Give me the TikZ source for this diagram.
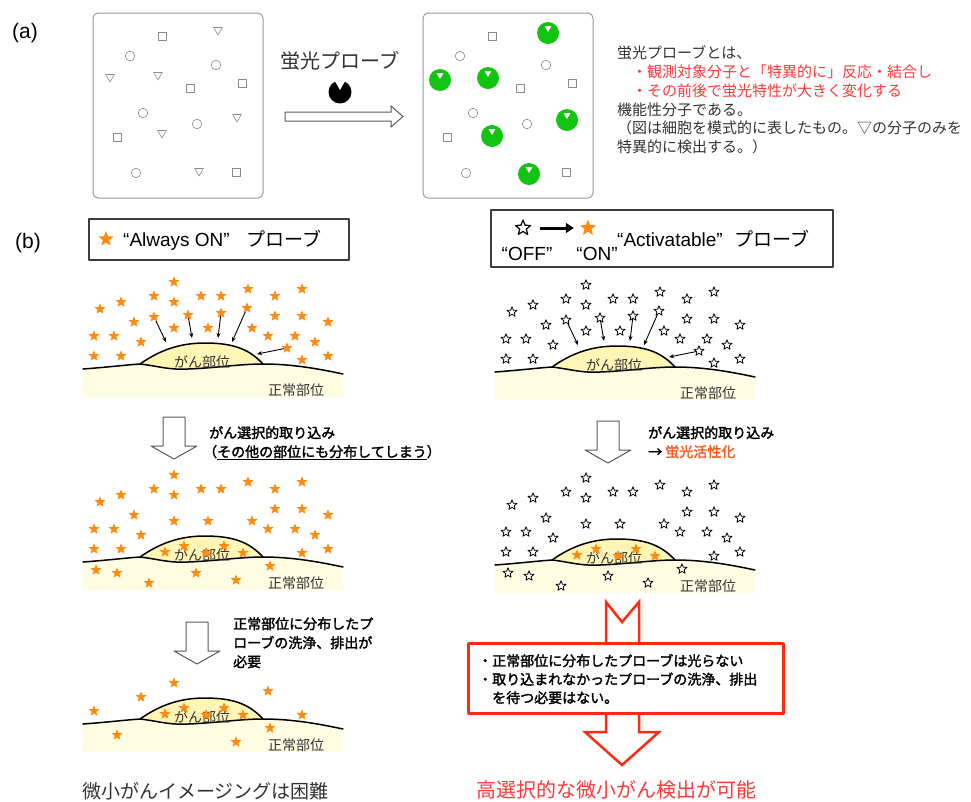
\documentclass[tikz,border=0pt]{standalone}
\usepackage{fontspec}
\setmainfont{Noto Sans CJK JP}[AutoFakeBold=2]
\newfontfamily\lat{Liberation Sans}
\usetikzlibrary{shapes.geometric,arrows.meta}

\definecolor{molgray}{HTML}{8A8A8A}
\definecolor{framegray}{HTML}{9A9A9A}
\definecolor{arrowgray}{HTML}{5A5A5A}
\definecolor{keyframe}{HTML}{3C3C3C}
\definecolor{textgray}{HTML}{333333}
\definecolor{probegreen}{HTML}{12C312}
\definecolor{onorange}{HTML}{FF8C10}
\definecolor{tumorfill}{HTML}{FFF5B4}
\definecolor{normalfill}{HTML}{FFFCE2}
\definecolor{notered}{HTML}{FF3838}
\definecolor{alertred}{HTML}{FF2A10}
\definecolor{glowred}{HTML}{FF5A1E}

\newcommand\fsz[1]{\fontsize{#1}{#1}\selectfont}

\tikzset{
  mol/.style={draw=molgray, line width=0.6pt, fill=white, inner sep=0pt},
  molcirc/.style={mol, circle, minimum size=9.5pt},
  molsq/.style={mol, rectangle, minimum size=8pt},
  moltri/.style={mol, regular polygon, regular polygon sides=3, shape border rotate=180, minimum size=10pt},
  hitmol/.style={circle, fill=probegreen, inner sep=0pt, minimum size=22pt},
  hittri/.style={regular polygon, regular polygon sides=3, shape border rotate=180, fill=white, inner sep=0pt, minimum size=8pt},
  onstar/.style={star, star points=5, star point ratio=2.3, fill=onorange, inner sep=0pt, minimum size=11.5pt},
  offstar/.style={star, star points=5, star point ratio=2.3, draw=black, fill=white, line width=0.8pt, inner sep=0pt, minimum size=10.5pt},
  hollow/.style={draw=arrowgray, line width=1pt, fill=white},
  tissueline/.style={line width=1.5pt, line join=round, line cap=round},
  uptakearrow/.style={-{Stealth[length=5pt,width=4pt]}, line width=0.9pt},
  keybox/.style={draw=keyframe, line width=1.5pt, inner sep=0pt, anchor=north west},
  sitelabel/.style={font=\fsz{14}, text=textgray, anchor=base, inner sep=0pt},
  remark/.style={font=\fsz{14}\bfseries, anchor=base west, inner sep=0pt},
  note/.style={font=\fsz{15}, text=textgray, anchor=base west, inner sep=0pt},
  hollowdown/.pic={
    \draw[hollow] (-11,0) -- (11,0) -- (11,29) -- (23,29) -- (0,42) -- (-23,29) -- (-11,29) -- cycle;
  },
  tissue/.pic={
    % normal tissue below the surface line
    \fill[normalfill] (83,369) .. controls (110,367) and (125,365) .. (140,364)
      .. controls (158,366) and (168,370) .. (188,369)
      .. controls (215,368) and (240,364) .. (263,364)
      .. controls (290,364) and (315,368) .. (343,374) -- (343,397) -- (83,397) -- cycle;
    % tumour bump
    \fill[tumorfill] (140,364) .. controls (160,350) and (180,343) .. (205,343)
      .. controls (235,343) and (250,350) .. (263,364)
      .. controls (240,364) and (215,368) .. (188,369)
      .. controls (168,370) and (158,366) .. (140,364) -- cycle;
    \draw[tissueline] (83,369) .. controls (110,367) and (125,365) .. (140,364)
      .. controls (158,366) and (168,370) .. (188,369)
      .. controls (215,368) and (240,364) .. (263,364)
      .. controls (290,364) and (315,368) .. (343,374);
    \draw[tissueline] (140,364) .. controls (160,350) and (180,343) .. (205,343)
      .. controls (235,343) and (250,350) .. (263,364);
    \node[sitelabel] (-tumor) at (202,367) {がん部位};
    \node[sitelabel] (-normal) at (296,395) {正常部位};
  }
}

% molecules in the cell
\def\circs{130/56, 216/65, 143/113, 197/124, 136/173}
\def\squares{162/36, 190/88, 242/83, 117/137, 236/172}
\def\targets{218/30, 110/77, 158/75, 237/117, 162/133, 199/171}
% probe positions around the tumour
\def\upperstars{174/282, 100/309, 121/302, 154/296, 174/302, 201/296, 221/296, 248/289, 275/296, 302/289, 134/322, 275/316, 302/316, 328/322, 94/336, 114/336, 141/342, 174/328, 208/328, 252/328, 268/336, 295/336, 315/342, 94/356, 121/356, 302/360, 328/356}
\def\uptake{154/317/166/342, 188/315/192/338, 221/313/218/338, 247/308/232/342, 287/348/257/354}
\def\tumorstars{165/359, 184/353, 206/360, 224/353, 243/360}
\def\lowerstars{96/377, 117/380, 149/390, 196/380, 236/387, 270/373}
\def\leftstars{174/328, 141/342, 94/356, 268/336, 302/360}
\def\leftlower{117/380, 236/387, 270/373}

\begin{document}
\begin{tikzpicture}[x=1pt, y=-1pt, line join=round]
\useasboundingbox (0,0) rectangle (971,801);
\fill[white] (0,0) rectangle (971,801);

%% (a)
\node[font=\lat\fsz{21}, anchor=base, inner sep=0pt] (lbla) at (25,38) {(a)};
\draw[framegray, line width=1pt, rounded corners=5pt] (93,13) rectangle (263,198);
\draw[framegray, line width=1pt, rounded corners=5pt] (423,13) rectangle (593,198);
\foreach \x/\y [count=\i] in \circs {
  \node[molcirc] (lc\i) at (\x,\y) {};
  \node[molcirc] (rc\i) at (\x+330,\y) {};
}
\foreach \x/\y [count=\i] in \squares {
  \node[molsq] (ls\i) at (\x,\y) {};
  \node[molsq] (rs\i) at (\x+330,\y) {};
}
\foreach \x/\y [count=\i] in \targets {
  \node[moltri] (lt\i) at (\x,\y) {};
  \node[hitmol] (hit\i) at (\x+330,\y+3) {};
  \node[hittri] (rt\i) at ([yshift=5pt]hit\i.center) {};
}
\node[font=\fsz{20}, text=textgray, anchor=base, inner sep=0pt] (probename) at (340,68) {蛍光プローブ};
\node[circle, fill=black, minimum size=23pt, inner sep=0pt] (probe) at (340,92) {};
\node[regular polygon, regular polygon sides=3, shape border rotate=180, fill=white, inner sep=0pt, minimum size=13pt] (notch) at (340,83.5) {};
\draw[hollow, line join=miter] (285,112) -- (391,112) -- (391,106) -- (403,116.5) -- (391,127) -- (391,121) -- (285,121) -- cycle;

\foreach \t [count=\i] in {蛍光プローブとは、,
    {\color{notered}　・観測対象分子と「特異的に」反応・結合し},
    {\color{notered}　・その前後で蛍光特性が大きく変化する},
    機能性分子である。,
    （図は細胞を模式的に表したもの。▽の分子のみを,
    特異的に検出する。）}
  \node[note] (def\i) at (617,{58.7+18.8*(\i-1)}) {\t};

%% (b)
\node[font=\lat\fsz{21}, anchor=base, inner sep=0pt] (lblb) at (28,248) {(b)};
\node[keybox, minimum width=260pt, minimum height=41pt] (alwaysbox) at (88,218) {};
\node[onstar, minimum size=16pt] (alwayskey) at (106,239) {};
\node[anchor=base west, inner sep=0pt, font=\fsz{19}] (alwayslabel) at (123,246) {{\lat “Always ON”}\hspace{0.9em}プローブ};

\node[keybox, minimum width=342pt, minimum height=57pt] (actbox) at (490,209) {};
\node[offstar, minimum size=16pt, line width=1.2pt] (offkey) at (523,228) {};
\node[onstar, minimum size=17pt] (onkey) at (588,228) {};
\draw[-{Triangle[length=8pt,width=10pt]}, line width=3pt, shorten <=11pt, shorten >=9pt] (offkey) -- (onkey);
\node[font=\lat\fsz{19}, anchor=base, inner sep=0pt] (offlabel) at (527,260) {“OFF”};
\node[font=\lat\fsz{19}, anchor=base, inner sep=0pt] (onlabel) at (597,260) {“ON”};
\node[anchor=base west, inner sep=0pt, font=\fsz{19}] (actlabel) at (617,246) {{\lat “Activatable”}\hspace{0.6em}プローブ};

% probe given
\foreach \dx/\dy/\st/\sc in {0/0/onstar/l, 412/3/offstar/r} {
  \begin{scope}[shift={(\dx,\dy)}]
    \pic (one\sc) {tissue};
    \foreach \x/\y [count=\i] in \upperstars
      \node[\st] (one\sc\i) at (\x,\y) {};
    \foreach \x/\y/\u/\v [count=\i] in \uptake {
      \node[\st] (src\sc\i) at (\x,\y) {};
      \coordinate (dst\sc\i) at (\u,\v);
      \draw[uptakearrow] (src\sc\i) -- (dst\sc\i);
    }
  \end{scope}
}

% after uptake
\foreach \dx/\dy/\st/\sc in {0/193/onstar/l, 412/196/offstar/r} {
  \begin{scope}[shift={(\dx,\dy)}]
    \pic (two\sc) {tissue};
    \foreach \x/\y [count=\i] in \upperstars
      \node[\st] (two\sc\i) at (\x,\y) {};
    \foreach \x/\y [count=\i] in \tumorstars
      \node[onstar] (in\sc\i) at (\x,\y) {};
    \foreach \x/\y [count=\i] in \lowerstars
      \node[\st] (low\sc\i) at (\x,\y) {};
  \end{scope}
}

% after washing out
\begin{scope}[shift={(0,355)}]
  \pic (three) {tissue};
  \foreach \x/\y [count=\i] in \leftstars
    \node[onstar] (rest\i) at (\x,\y) {};
  \foreach \x/\y [count=\i] in \tumorstars
    \node[onstar] (keep\i) at (\x,\y) {};
  \foreach \x/\y [count=\i] in \leftlower
    \node[onstar] (stay\i) at (\x,\y) {};
\end{scope}

\pic at (174,417) {hollowdown};
\pic at (608,421) {hollowdown};
\pic at (197,622) {hollowdown};

\node[remark] (uptakeL1) at (209,438) {がん選択的取り込み};
\node[remark] (uptakeL2) at (203,457) {（\underline{その他の部位にも分布してしまう}）};
\node[remark] (uptakeR1) at (648,438) {がん選択的取り込み};
\node[remark] (uptakeR2) at (648,457) {→ \textcolor{glowred}{蛍光活性化}};
\node[remark] (washL1) at (233,629) {正常部位に分布したプ};
\node[remark] (washL2) at (233,648) {ローブの洗浄、排出が};
\node[remark] (washL3) at (233,667) {必要};

% big red arrow with the remark box on top
\draw[alertred, line width=2.5pt, fill=white, line join=miter] (606,602) -- (622,622) -- (639,602) -- (639,732) -- (659,732) -- (622,765) -- (585,732) -- (606,732) -- cycle;
\node[draw=alertred, line width=2.5pt, fill=white, minimum width=315pt, minimum height=70pt, inner sep=0pt, anchor=north west] (alert) at (467,642) {};
\node[remark] (alert1) at (478,666) {・正常部位に分布したプローブは光らない};
\node[remark] (alert2) at (478,684.5) {・取り込まれなかったプローブの洗浄、排出};
\node[remark] (alert3) at (478,703) {　を待つ必要はない。};

\node[font=\fsz{19}, text=textgray, anchor=base west, inner sep=0pt] (hard) at (82,798) {微小がんイメージングは困難};
\node[font=\fsz{20}, text=notered, anchor=base west, inner sep=0pt] (easy) at (476,797) {高選択的な微小がん検出が可能};
\end{tikzpicture}
\end{document}
